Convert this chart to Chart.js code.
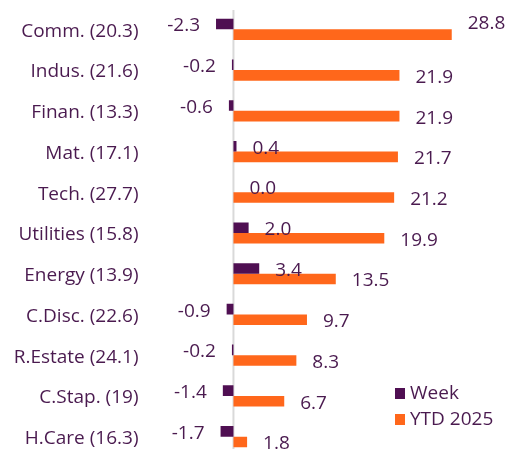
<!DOCTYPE html>
<html>
<head>
<meta charset="utf-8">
<script src="https://cdn.jsdelivr.net/npm/chart.js@4.4.1/dist/chart.umd.min.js"></script>
<style>
  html, body { margin: 0; padding: 0; background: #fff; overflow: hidden; }
  #wrap { position: relative; width: 510px; height: 457px; }
</style>
</head>
<body>
<div id="wrap"><canvas id="chart"></canvas></div>
<script>
// Sector performance: weekly change vs YTD 2025 (P/E in brackets)
var SECTORS = ['Comm. (20.3)', 'Indus. (21.6)', 'Finan. (13.3)', 'Mat. (17.1)', 'Tech. (27.7)',
  'Utilities (15.8)', 'Energy (13.9)', 'C.Disc. (22.6)', 'R.Estate (24.1)', 'C.Stap. (19)', 'H.Care (16.3)'];
var WEEK = [-2.3, -0.2, -0.6, 0.4, 0.0, 2.0, 3.4, -0.9, -0.2, -1.4, -1.7];
var YTD = [28.8, 21.9, 21.9, 21.7, 21.2, 19.9, 13.5, 9.7, 8.3, 6.7, 1.8];

var PURPLE = '#4f0f52';
var ORANGE = '#ff671b';
var TEXT = '#4a1a4f';
var FONT = '"Open Sans", Lato, sans-serif';
var FONT_SIZE = 19;

// grey zero line behind the bars
var zeroLine = {
  id: 'zeroLine',
  beforeDatasetsDraw: function(chart) {
    var ctx = chart.ctx;
    var x = chart.scales.x.getPixelForValue(0);
    ctx.save();
    ctx.strokeStyle = '#d9d9d9';
    ctx.lineWidth = 2;
    ctx.beginPath();
    ctx.moveTo(x, chart.chartArea.top + 1);
    ctx.lineTo(x, chart.height);
    ctx.stroke();
    ctx.restore();
  }
};

var valueLabels = {
  id: 'valueLabels',
  afterDatasetsDraw: function(chart) {
    var ctx = chart.ctx;
    var area = chart.chartArea;
    ctx.save();
    ctx.font = FONT_SIZE + 'px ' + FONT;
    ctx.fillStyle = TEXT;
    ctx.textBaseline = 'middle';
    chart.data.datasets.forEach(function(ds, di) {
      var meta = chart.getDatasetMeta(di);
      meta.data.forEach(function(bar, i) {
        var v = ds.data[i];
        var txt = v.toFixed(1);
        var y = bar.y + 2;
        if (v < 0) {
          ctx.textAlign = 'right';
          ctx.fillText(txt, Math.min(bar.x, bar.base) - 16, y);
        } else {
          var x = Math.max(bar.x, bar.base) + 16;
          ctx.textAlign = 'left';
          // label does not fit beside the bar: lift it above
          if (x + ctx.measureText(txt).width > area.right) y -= 13;
          ctx.fillText(txt, x, y);
        }
      });
    });
    ctx.restore();
  }
};

var legendBox = {
  id: 'legendBox',
  afterDraw: function(chart) {
    var ctx = chart.ctx;
    ctx.save();
    ctx.font = FONT_SIZE + 'px ' + FONT;
    ctx.textBaseline = 'middle';
    ctx.textAlign = 'left';
    chart.data.datasets.forEach(function(ds, i) {
      var y = 393 + i * 26;
      ctx.fillStyle = ds.backgroundColor;
      ctx.fillRect(395, y - 5, 10, 11);
      ctx.fillStyle = TEXT;
      ctx.fillText(ds.label, 410, y + 1);
    });
    ctx.restore();
  }
};

new Chart(document.getElementById('chart'), {
  type: 'bar',
  data: {
    labels: SECTORS,
    datasets: [
      { label: 'Week', data: WEEK, backgroundColor: PURPLE, categoryPercentage: 0.52, barPercentage: 1 },
      { label: 'YTD 2025', data: YTD, backgroundColor: ORANGE, categoryPercentage: 0.52, barPercentage: 1 }
    ]
  },
  options: {
    indexAxis: 'y',
    responsive: true,
    maintainAspectRatio: false,
    animation: false,
    layout: { padding: { top: 9, right: 34, bottom: 0, left: 0 } },
    plugins: {
      legend: { display: false },
      tooltip: { enabled: false }
    },
    scales: {
      x: {
        display: false,
        min: -12,
        max: 32
      },
      y: {
        afterFit: function(scale) {
          scale.width = 142.5;
          scale.paddingTop = 0;
          scale.paddingBottom = 0;
        },
        ticks: { color: TEXT, font: { family: FONT, size: FONT_SIZE }, padding: 4, labelOffset: 2, autoSkip: false },
        border: { display: false },
        grid: { display: false, drawTicks: false }
      }
    }
  },
  plugins: [zeroLine, valueLabels, legendBox]
});
</script>
</body>
</html>
